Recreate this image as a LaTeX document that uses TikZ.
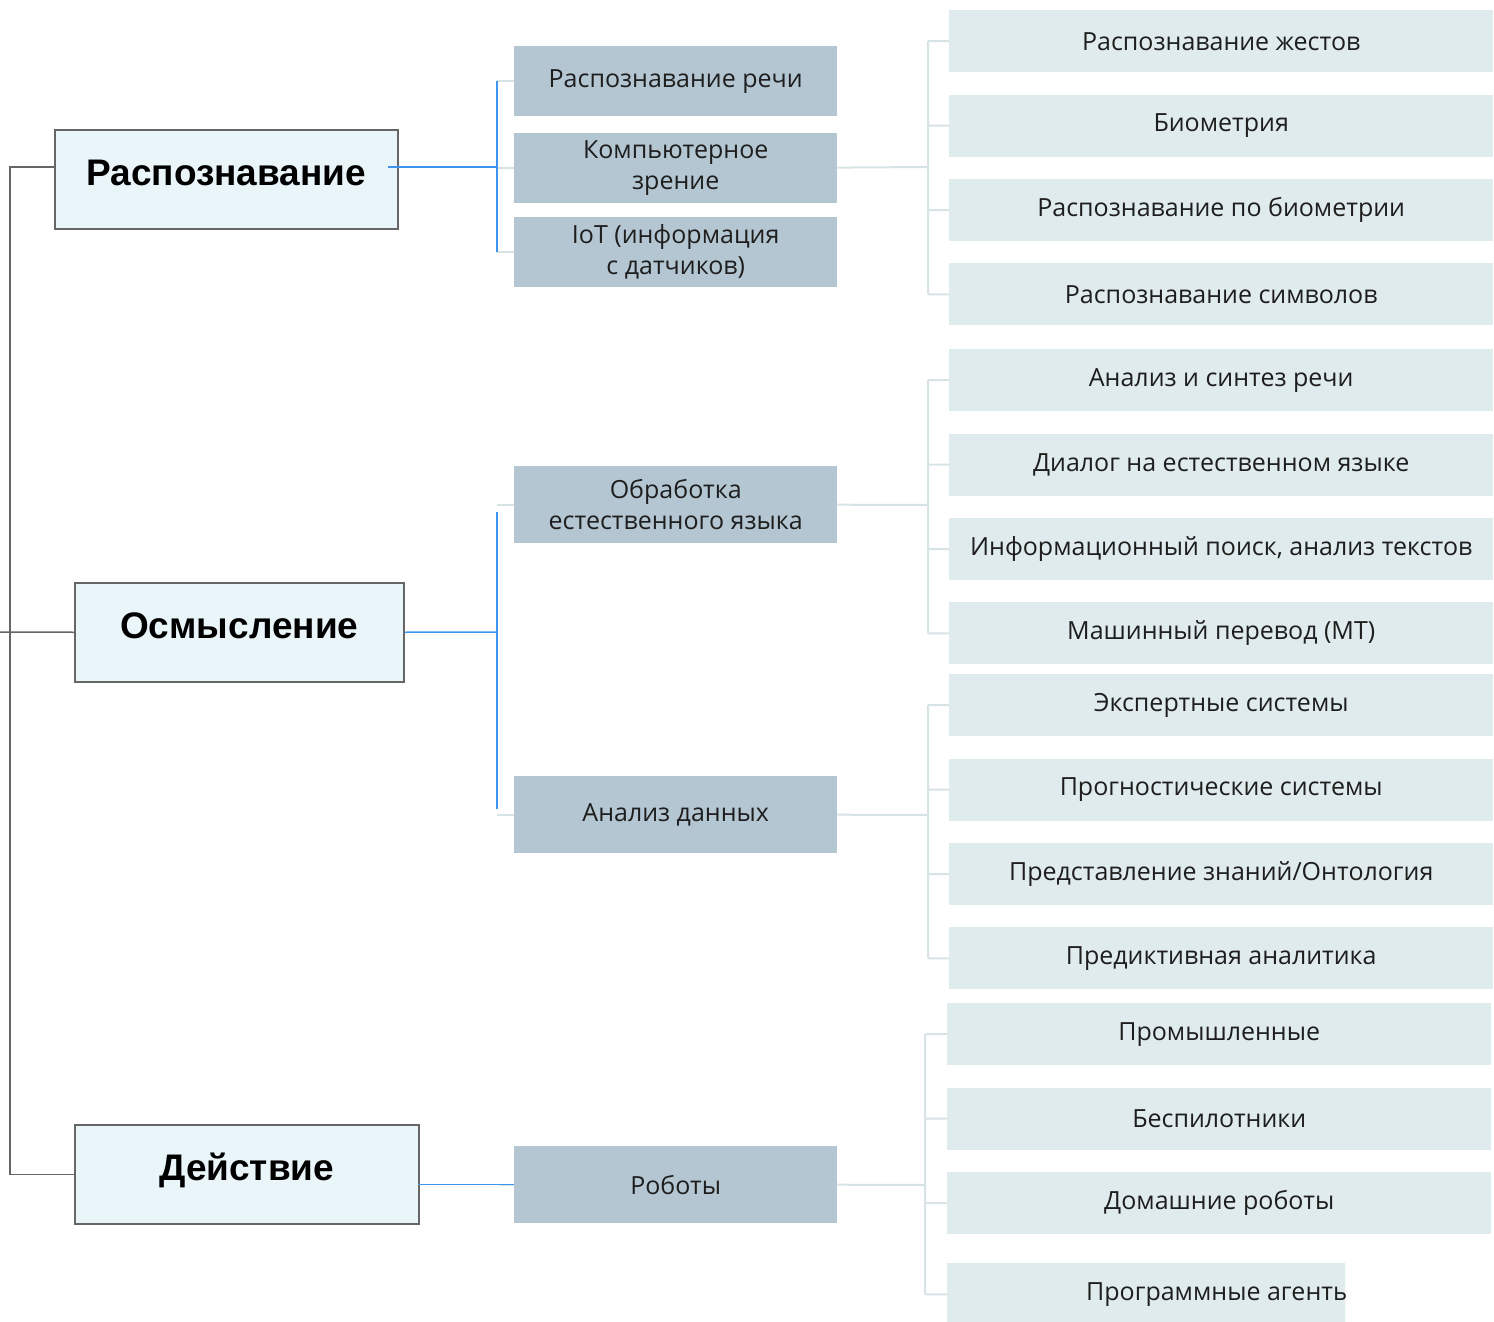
\documentclass[tikz,border=0pt]{standalone}
\usepackage{fontspec}
\setmainfont{Open Sans}
\newfontfamily\headfont{Liberation Sans}
\usetikzlibrary{positioning}
\definecolor{frame}{HTML}{666666}
\definecolor{topfill}{HTML}{EAF5F9}
\definecolor{midfill}{HTML}{B4C6D2}
\definecolor{leaffill}{HTML}{E0EBED}
\definecolor{link}{HTML}{3D95EE}
\definecolor{twig}{HTML}{D8E3E6}
\definecolor{txt}{HTML}{1E1E1E}
\tikzset{
  topbox/.style={draw=frame,line width=1.5pt,fill=topfill,anchor=north west,
    minimum height=99pt,inner sep=0pt,text height=30pt,text depth=17pt,
    font=\headfont\bfseries\fontsize{37}{40}\selectfont},
  midbox/.style={fill=midfill,anchor=north west,minimum width=323pt,inner sep=0pt,
    align=center,text=txt,font=\fontsize{25}{31}\selectfont},
  leafbox/.style={fill=leaffill,anchor=north west,minimum width=544pt,minimum height=62pt,
    inner sep=0pt,text=txt,font=\fontsize{25}{31}\selectfont},
  trunkline/.style={draw=frame,line width=1.5pt},
  linkline/.style={draw=link,line width=1.5pt},
  twigline/.style={draw=twig,line width=2pt}
}

\begin{document}
\begin{tikzpicture}[x=1pt,y=-1pt,node distance=22pt]
\useasboundingbox (0,0) rectangle (1494,1322);
% top level
\node[topbox,minimum width=343pt] (rec) at (54,129) {Распознавание};
\node[topbox,minimum width=329pt] (think) at (74,582) {Осмысление};
\node[topbox,minimum width=344pt] (act) at (74,1124) {Действие};
% second level
\node[midbox,minimum height=70pt] (speech) at (514,46) {Распознавание речи};
\node[midbox,minimum height=70pt,below=16pt of speech] (cv) {Компьютерное\\зрение};
\node[midbox,minimum height=70pt,below=14pt of cv] (iot) {IoT (информация\\с датчиков)};
\node[midbox,minimum height=77pt] (nlp) at (514,466) {Обработка\\естественного языка};
\node[midbox,minimum height=77pt] (data) at (514,776) {Анализ данных};
\node[midbox,minimum height=77pt] (robots) at (514,1146) {Роботы};
% leaves
\node[leafbox] (gest) at (949,10) {Распознавание жестов};
\node[leafbox,below=of gest] (bio) {Биометрия};
\node[leafbox,below=of bio] (biorec) {Распознавание по биометрии};
\node[leafbox,below=of biorec] (sym) {Распознавание символов};
\node[leafbox] (synth) at (949,349) {Анализ и синтез речи};
\node[leafbox,below=of synth] (dialog) {Диалог на естественном языке};
\node[leafbox,below=of dialog] (search) {Информационный поиск, анализ текстов};
\node[leafbox,below=of search] (mt) {Машинный перевод (MT)};
\node[leafbox] (expert) at (949,674) {Экспертные системы};
\node[leafbox,below=of expert] (forecast) {Прогностические системы};
\node[leafbox,below=of forecast] (onto) {Представление знаний/Онтология};
\node[leafbox,below=of onto] (predict) {Предиктивная аналитика};
\node[leafbox] (industry) at (947,1003) {Промышленные};
\node[leafbox,below=of industry] (drones) {Беспилотники};
\node[leafbox,below=of drones] (home) {Домашние роботы};
\begin{scope}
\clip (947,1240) rectangle (1345,1322);
\node[leafbox,below=29pt of home] (agents) {Программные агенты};
\end{scope}
% junctions
\coordinate (root) at (0,632);
\coordinate (spine) at (10,632);
\coordinate (jr) at (497,167);
\coordinate (jt) at (497,632);
\coordinate (k1) at (928,167);
\coordinate (k2) at (928,505);
\coordinate (k3) at (928,815);
\coordinate (k4) at (925,1185);
% gray trunk
\draw[trunkline] (rec.west |- jr) -| (spine) |- (act.west);
\draw[trunkline] (root) -- (think.west);
% pale ticks to the second level
\draw[twigline] (jr |- speech.west) -- (speech.west) (jr |- cv.west) -- (cv.west)
  (jr |- iot.west) -- (iot.west);
\draw[twigline] (jt |- nlp.west) -- (nlp.west) (jt |- data.west) -- (data.west);
\draw[twigline] (robots.west) -- ++(-14,0);
% blue brackets
\draw[linkline] (jr) -- (rec.east |- jr) -- ++(-11,0);
\draw[linkline] (jr |- speech.west) -- (jr |- iot.west);
\draw[linkline] (think.east) -- (jt);
\draw[linkline,shorten <=7pt,shorten >=6pt] (jt |- nlp.west) -- (jt |- data.west);
\draw[linkline] (robots.west) -- (act.east |- robots.west) -- ++(-2,0);
% pale brackets to the leaves
\draw[twigline] (cv.east) -- (k1) (k1 |- gest.west) -- (k1 |- sym.west)
  (k1 |- gest.west) -- (gest.west) (k1 |- bio.west) -- (bio.west)
  (k1 |- biorec.west) -- (biorec.west) (k1 |- sym.west) -- (sym.west);
\draw[twigline] (nlp.east) -- (k2) (k2 |- synth.west) -- (k2 |- mt.west)
  (k2 |- synth.west) -- (synth.west) (k2 |- dialog.west) -- (dialog.west)
  (k2 |- search.west) -- (search.west) (k2 |- mt.west) -- (mt.west);
\draw[twigline] (data.east) -- (k3) (k3 |- expert.west) -- (k3 |- predict.west)
  (k3 |- expert.west) -- (expert.west) (k3 |- forecast.west) -- (forecast.west)
  (k3 |- onto.west) -- (onto.west) (k3 |- predict.west) -- (predict.west);
\draw[twigline] (robots.east) -- (k4) (k4 |- industry.west) -- (k4 |- agents.west)
  (k4 |- industry.west) -- (industry.west) (k4 |- drones.west) -- (drones.west)
  (k4 |- home.west) -- (home.west) (k4 |- agents.west) -- (agents.west);
\end{tikzpicture}
\end{document}
